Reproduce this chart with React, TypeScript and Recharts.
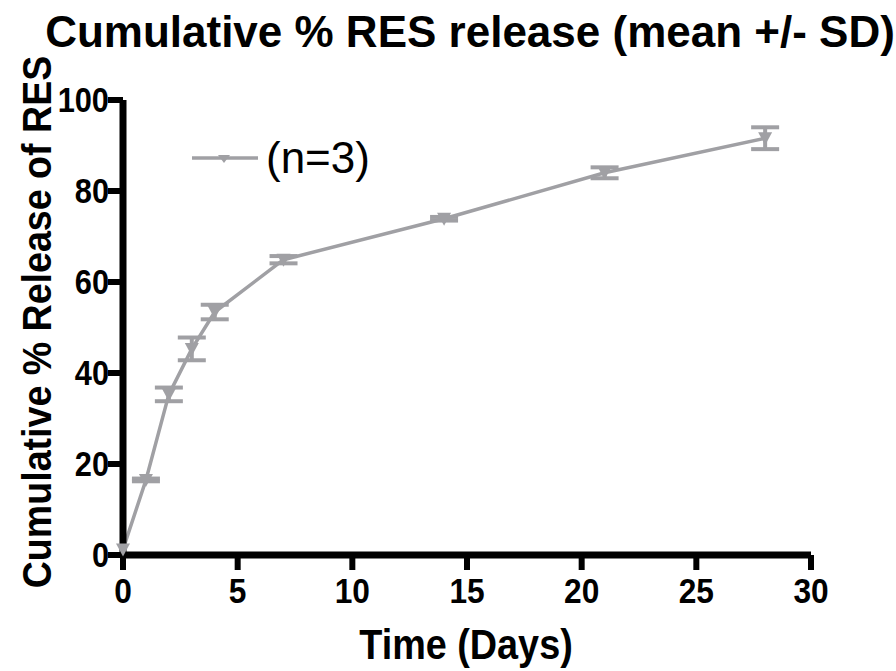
import React from 'react';
import { LineChart, Line, XAxis, YAxis, ErrorBar } from 'recharts';

const days = [0, 1, 2, 3, 4, 7, 14, 21, 28];
const release = [1.2, 16.5, 35.3, 45.3, 53.4, 64.9, 73.9, 84.0, 91.6];
const sd = [0, 0.3, 1.5, 2.5, 1.6, 0.8, 0.4, 1.2, 2.4];
const xTicks = [0, 5, 10, 15, 20, 25, 30];
const yTicks = [0, 20, 40, 60, 80, 100];

const data = days.map((d, i) => ({ day: d, release: release[i], sd: sd[i] }));

const GREY = '#a0a0a4';
const FONT = '"Liberation Sans", Arial, Helvetica, sans-serif';

const TriangleDot = (props: any) => {
  const { cx, cy } = props;
  if (cx == null || cy == null) return null;
  return <polygon points={`${cx - 7},${cy - 6} ${cx + 7},${cy - 6} ${cx},${cy + 7}`} fill={GREY} />;
};

// narrow-ish bold tick labels, like the original figure
const NarrowTick = (props: any) => {
  const { x, y, payload, textAnchor, size } = props;
  return (
    <text
      x={0}
      y={0}
      textAnchor={textAnchor}
      dominantBaseline="central"
      transform={`translate(${x} ${y}) scale(0.88 1)`}
      style={{ fontFamily: FONT, fontWeight: 700, fontSize: size }}
      fill="#000"
    >
      {payload.value}
    </text>
  );
};

export default function App() {
  return (
    <div style={{ position: 'absolute', left: 0, top: 0, width: 896, height: 671, background: '#fff', overflow: 'hidden' }}>
      <div
        style={{
          position: 'absolute',
          left: 40,
          top: 7,
          width: 860,
          textAlign: 'center',
          fontFamily: FONT,
          fontWeight: 700,
          fontSize: 44,
          color: '#000',
          whiteSpace: 'nowrap',
        }}
      >
        Cumulative % RES release (mean +/- SD)
      </div>
      <div style={{ position: 'absolute', left: 190, top: 132, display: 'flex', alignItems: 'center', zIndex: 2 }}>
        <svg width={70} height={20}>
          <line x1={2} y1={10} x2={68} y2={10} stroke={GREY} strokeWidth={3.5} />
          <polygon points="28,7 40,7 34,15" fill={GREY} />
        </svg>
        <span style={{ fontFamily: FONT, fontSize: 44, color: '#000', marginLeft: 6, lineHeight: '52px' }}>(n=3)</span>
      </div>
      <LineChart width={896} height={671} data={data} margin={{ top: 100, right: 85, bottom: 56, left: 63 }}>
        <XAxis
          dataKey="day"
          type="number"
          domain={[0, 30]}
          ticks={xTicks}
          axisLine={{ stroke: '#000', strokeWidth: 7 }}
          tickLine={{ stroke: '#000', strokeWidth: 6 }}
          tickSize={15}
          tickMargin={0}
          tick={(p: any) => <NarrowTick {...p} y={p.y + 20} size={36} />}
          height={60}
          label={{
            content: () => (
              <text
                x={466}
                y={659}
                textAnchor="middle"
                transform="translate(466 0) scale(0.9 1) translate(-466 0)"
                style={{ fontFamily: FONT, fontWeight: 700, fontSize: 42 }}
                fill="#000"
              >
                Time (Days)
              </text>
            ),
          }}
        />
        <YAxis
          type="number"
          domain={[0, 100]}
          ticks={yTicks}
          axisLine={{ stroke: '#000', strokeWidth: 7 }}
          tickLine={{ stroke: '#000', strokeWidth: 6 }}
          tickSize={15}
          tickMargin={0}
          tick={(p: any) => <NarrowTick {...p} x={p.x + 1} size={35} />}
          width={60}
          label={{
            content: () => (
              <text
                x={0}
                y={0}
                textAnchor="middle"
                transform="translate(51 322) rotate(-90) scale(0.94 1)"
                style={{ fontFamily: FONT, fontWeight: 700, fontSize: 40 }}
                fill="#000"
              >
                Cumulative % Release of RES
              </text>
            ),
          }}
        />
        <Line
          dataKey="release"
          stroke={GREY}
          strokeWidth={3.5}
          dot={<TriangleDot />}
          activeDot={false}
          isAnimationActive={false}
        >
          <ErrorBar dataKey="sd" width={14} strokeWidth={4} stroke={GREY} direction="y" isAnimationActive={false} />
        </Line>
      </LineChart>
    </div>
  );
}
